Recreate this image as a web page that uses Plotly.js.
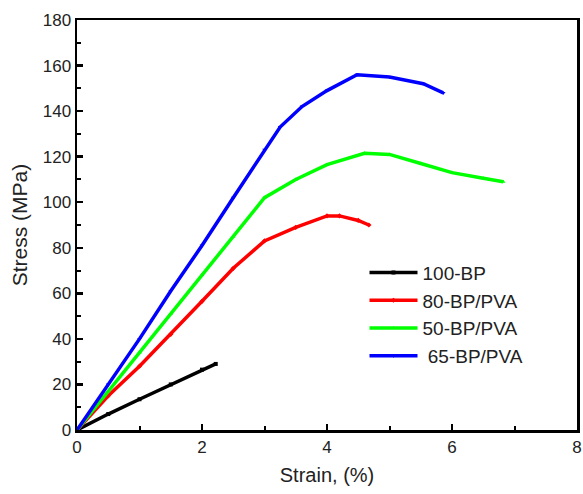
<!DOCTYPE html>
<html><head><meta charset="utf-8">
<script src="https://cdn.plot.ly/plotly-3.0.1.min.js"></script>
<style>body{margin:0;background:#fff}#c{width:583px;height:494px}</style>
</head><body><div id="c"></div>
<script>
const names = ["100-BP", "80-BP/PVA", "50-BP/PVA", " 65-BP/PVA"];
const colors = ["#000000", "#ff0000", "#00ff00", "#0000ff"];
const symbols = ["square", "diamond", "triangle-up", "triangle-down"];
const strain100 = [0, 0.5, 1, 1.5, 2, 2.22];
const stress100 = [0, 7, 13.5, 20, 26.5, 29];
const strain80 = [0, 0.5, 1, 1.5, 2, 2.5, 3, 3.5, 4, 4.2, 4.5, 4.67];
const stress80 = [0, 15, 28, 42, 56.5, 71, 83, 89, 94, 94, 92, 90];
const strain50 = [0, 0.5, 1, 1.5, 2, 2.5, 3, 3.5, 4, 4.6, 5, 5.5, 6, 6.5, 6.82];
const stress50 = [0, 17, 34, 51, 68, 85, 102, 110, 116.5, 121.5, 121, 117, 113, 110.5, 109];
const strain65 = [0, 0.5, 1, 1.5, 2, 2.5, 3, 3.25, 3.6, 4, 4.48, 5, 5.54, 5.86];
const stress65 = [0, 20, 40, 61, 81, 102, 123, 133, 142, 149, 156, 155, 152, 148];
const xs = [strain100, strain80, strain50, strain65];
const ys = [stress100, stress80, stress50, stress65];
const traces = xs.map((x, i) => ({
  x: x, y: ys[i], name: names[i], type: "scatter", mode: "lines+markers",
  line: {color: colors[i], width: 3.5},
  marker: {symbol: symbols[i], size: 4, color: colors[i]}
}));
const FONT = "Liberation Sans, Arial, sans-serif";
const ax = {
  showline: true, linewidth: 2.5, linecolor: "#000", mirror: true,
  ticks: "inside", ticklen: 6, tickwidth: 2.5, tickcolor: "#000",
  showgrid: false, zeroline: false,
  tickfont: {family: FONT, size: 17, color: "#222"},
  minor: {ticks: "inside", ticklen: 4, tickwidth: 2, tickcolor: "#000"}
};
const layout = {
  width: 583, height: 494,
  margin: {l: 77, r: 6, t: 20, b: 64},
  paper_bgcolor: "#fff", plot_bgcolor: "#fff",
  showlegend: true,
  legend: {x: 0.575, y: 0.43, xanchor: "left", yanchor: "top", bgcolor: "rgba(0,0,0,0)",
    itemwidth: 48, font: {family: FONT, size: 19, color: "#222"}, tracegroupgap: 0},
  xaxis: Object.assign({}, ax, {range: [0, 8], dtick: 2, minor: Object.assign({}, ax.minor, {dtick: 1}),
    title: {text: "Strain, (%)", font: {family: FONT, size: 20, color: "#222"}, standoff: 12}}),
  yaxis: Object.assign({}, ax, {range: [0, 180], dtick: 20, minor: Object.assign({}, ax.minor, {dtick: 10}),
    title: {text: "Stress (MPa)", font: {family: FONT, size: 21, color: "#222"}, standoff: 10}})
};
Plotly.newPlot("c", traces, layout, {staticPlot: true});
</script></body></html>
